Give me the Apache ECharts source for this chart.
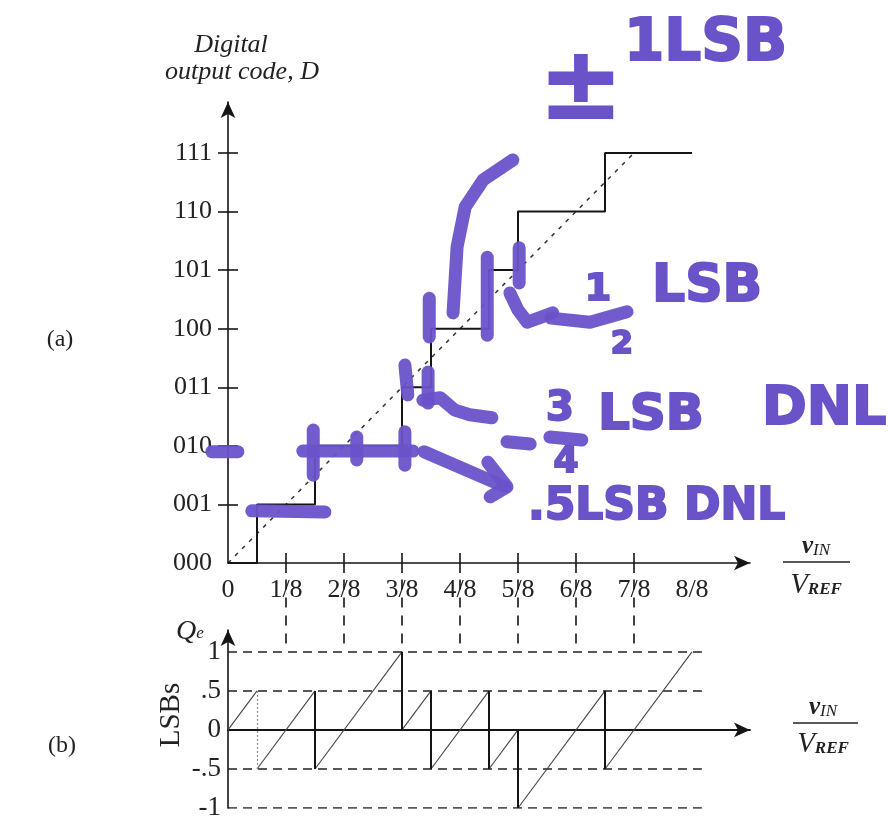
<!DOCTYPE html>
<html><head><meta charset="utf-8">
<script src="https://cdn.jsdelivr.net/npm/echarts@6/dist/echarts.min.js"></script>
<style>html,body{margin:0;padding:0;background:#fff}#c{width:888px;height:821px}</style>
</head><body><div id="c"></div>
<script>
// ---------- data (x in eighths of VREF) ----------
const xTickValues = [1, 2, 3, 4, 5, 6, 7];
const xLabelValues = [0, 1, 2, 3, 4, 5, 6, 7, 8];
const xLabels = ['0', '1/8', '2/8', '3/8', '4/8', '5/8', '6/8', '7/8', '8/8'];
const codeTickValues = [1, 2, 3, 4, 5, 6, 7];
const codeValues = [0, 1, 2, 3, 4, 5, 6, 7];
const codeLabels = ['000', '001', '010', '011', '100', '101', '110', '111'];
// input levels where the output code steps up by one
const transitions = [0.5, 1.5, 3, 3.5, 4.5, 5, 6.5];
const staircaseEnd = 8;
const idealStart = [0, 0];
const idealEnd = [7, 7];
// quantization error (LSBs): ramp segments
const qeRampStartX = [0, 0.5, 1.5, 3, 3.5, 4.5, 5, 6.5];
const qeRampStartY = [0, -0.5, -0.5, 0, -0.5, -0.5, -1, -0.5];
const qeRampEndX = [0.5, 1.5, 3, 3.5, 4.5, 5, 6.5, 8];
const qeRampEndY = [0.5, 0.5, 1, 0.5, 0.5, 0, 0.5, 1];
const qeLabelValues = [-1, -0.5, 0, 0.5, 1];
const qeLabels = ['-1', '-.5', '0', '.5', '1'];
const qeGuideLevels = [1, 0.5, -0.5, -1];
const qeGuideEnd = 8.17;
const connectorTop = -0.28, connectorBottom = -1.45;
// hand-drawn marker strokes (data coords of plot a)
const markerStrokes = [
  [[0.41, 0.89], [1.67, 0.87]],
  [[1.29, 1.91], [3.19, 1.91]],
  [[-0.28, 1.90], [0.17, 1.90]],
  [[1.47, 2.27], [1.47, 1.50]],
  [[2.22, 2.15], [2.22, 1.76]],
  [[3.05, 2.24], [3.05, 1.67]],
  [[3.05, 3.38], [3.10, 2.87]],
  [[3.45, 3.26], [3.45, 2.73]],
  [[3.36, 2.78], [3.66, 2.82], [3.91, 2.61], [4.17, 2.53], [4.55, 2.48]],
  [[3.47, 4.52], [3.47, 3.86]],
  [[4.47, 5.22], [4.47, 3.89]],
  [[5.02, 5.38], [5.02, 4.78]],
  [[4.91, 6.88], [4.40, 6.54], [4.09, 6.08], [3.95, 5.40], [3.88, 4.27]],
  [[4.86, 4.61], [5.00, 4.32], [5.16, 4.11], [5.60, 4.27]],
  [[3.38, 1.90], [4.78, 1.30]],
  [[4.48, 1.72], [4.81, 1.30], [4.52, 1.13]],
  [[5.57, 4.18], [6.24, 4.11], [6.88, 4.29]],
  [[5.55, 2.15], [6.10, 2.10]],
  [[4.81, 2.07], [5.21, 2.03]]
];

// ---------- build ----------
const staircase = [[0, 0]];
transitions.forEach((t, i) => { staircase.push([t, i]); staircase.push([t, i + 1]); });
staircase.push([staircaseEnd, transitions.length]);

const ramps = qeRampStartX.map((x, i) => ({ coords: [[x, qeRampStartY[i]], [qeRampEndX[i], qeRampEndY[i]]] }));
const drops = qeRampEndX.slice(0, -1).map((x, i) => {
  const item = { coords: [[x, qeRampEndY[i]], [x, qeRampStartY[i + 1]]] };
  if (i === 0) item.lineStyle = { color: '#888', width: 1.2, type: [2, 2] };
  return item;
});
const guides = qeGuideLevels.map(v => ({ coords: [[0, v], [qeGuideEnd, v]] }));
const connectors = xTickValues.map(x => ({ coords: [[x, connectorTop], [x, connectorBottom]] }));

const SERIF = '"Liberation Serif", "DejaVu Serif", serif';
const INK = '#151515';
const PURPLE = '#6a52c9';
const HAND = '"DejaVu Sans", sans-serif';

const G0 = { left: 228, top: 102, width: 522, height: 461 };
const G1 = { left: 228, top: 630, width: 522, height: 178 };
const X_MAX = 9, Y0_MAX = 7.87, Y1_MIN = -1, Y1_MAX = 1.28;

const chart = echarts.init(document.getElementById('c'), null, { renderer: 'canvas' });

function handText(text, x, y, size, align) {
  return { type: 'text', x: x, y: y, z: 50, style: { text: text, fontFamily: HAND, fontWeight: 'bold', fontSize: size,
    fill: PURPLE, stroke: PURPLE, lineWidth: 2, align: align || 'left', verticalAlign: 'middle' } };
}
function plainText(text, x, y, size, italic, align) {
  return { type: 'text', x: x, y: y, style: { text: text, fontFamily: SERIF, fontStyle: italic ? 'italic' : 'normal',
    fontSize: size, fill: '#222', align: align || 'center', verticalAlign: 'middle' } };
}
function fraction(cx, yTop, yBar, yBot, x1, x2) {
  return [
    { type: 'text', x: cx, y: yTop, style: { text: '{v|v}{s|IN}', align: 'center', verticalAlign: 'middle', fill: '#222',
      rich: { v: { fontFamily: SERIF, fontStyle: 'italic', fontWeight: 'bold', fontSize: 25, fill: '#222' },
              s: { fontFamily: SERIF, fontStyle: 'italic', fontSize: 17, fill: '#222', padding: [8, 0, 0, 0] } } } },
    { type: 'line', shape: { x1: x1, y1: yBar, x2: x2, y2: yBar }, style: { stroke: '#222', lineWidth: 1.6 } },
    { type: 'text', x: cx, y: yBot, style: { text: '{v|V}{s|REF}', align: 'center', verticalAlign: 'middle', fill: '#222',
      rich: { v: { fontFamily: SERIF, fontStyle: 'italic', fontSize: 29, fill: '#222' },
              s: { fontFamily: SERIF, fontStyle: 'italic', fontWeight: 'bold', fontSize: 17, fill: '#222', padding: [10, 0, 0, 0] } } } }
  ];
}

const hiddenAxisBits = { axisLine: { show: false }, splitLine: { show: false } };

chart.setOption({
  animation: false,
  backgroundColor: '#fff',
  grid: [
    Object.assign({ outerBoundsMode: 'none' }, G0),
    Object.assign({ outerBoundsMode: 'none' }, G1),
    Object.assign({ outerBoundsMode: 'none' }, G0)
  ],
  xAxis: [
    { gridIndex: 0, type: 'value', min: 0, max: X_MAX,
      axisLine: { show: true, onZero: false, symbol: ['none', 'arrow'], symbolSize: [11, 16], lineStyle: { color: INK, width: 1.6 } },
      axisTick: { show: true, customValues: xTickValues, length: 10, lineStyle: { color: INK, width: 1.6 } },
      axisLabel: { show: true, customValues: xLabelValues, margin: 14, fontFamily: SERIF, fontSize: 26, color: '#222',
        formatter: v => xLabels[xLabelValues.indexOf(v)] },
      splitLine: { show: false } },
    { gridIndex: 1, type: 'value', min: 0, max: X_MAX,
      axisLine: { show: true, onZero: true, symbol: ['none', 'arrow'], symbolSize: [11, 16], lineStyle: { color: INK, width: 1.8 } },
      axisTick: { show: false }, axisLabel: { show: false }, splitLine: { show: false } },
    Object.assign({ gridIndex: 2, type: 'value', min: 0, max: X_MAX,
      axisTick: { show: true, inside: true, customValues: xTickValues, length: 10, lineStyle: { color: INK, width: 1.6 } },
      axisLabel: { show: false } }, hiddenAxisBits)
  ],
  yAxis: [
    { gridIndex: 0, type: 'value', min: 0, max: Y0_MAX,
      axisLine: { show: true, onZero: false, symbol: ['none', 'arrow'], symbolSize: [11, 16], lineStyle: { color: INK, width: 1.6 } },
      axisTick: { show: true, customValues: codeTickValues, length: 10, lineStyle: { color: INK, width: 1.6 } },
      axisLabel: { show: true, customValues: codeValues, margin: 16, fontFamily: SERIF, fontSize: 26, color: '#222',
        formatter: v => codeLabels[codeValues.indexOf(v)] },
      splitLine: { show: false } },
    { gridIndex: 1, type: 'value', min: Y1_MIN, max: Y1_MAX,
      axisLine: { show: true, onZero: false, symbol: ['none', 'arrow'], symbolSize: [11, 16], lineStyle: { color: INK, width: 1.6 } },
      axisTick: { show: false },
      axisLabel: { show: true, customValues: qeLabelValues, margin: 7, fontFamily: SERIF, fontSize: 27, color: '#222',
        formatter: v => qeLabels[qeLabelValues.indexOf(v)] },
      splitLine: { show: false } },
    Object.assign({ gridIndex: 2, type: 'value', min: 0, max: Y0_MAX,
      axisTick: { show: true, inside: true, customValues: codeTickValues, length: 10, lineStyle: { color: INK, width: 1.6 } },
      axisLabel: { show: false } }, hiddenAxisBits)
  ],
  series: [
    { type: 'line', name: 'ideal', xAxisIndex: 0, yAxisIndex: 0, data: [idealStart, idealEnd], symbol: 'none',
      lineStyle: { color: '#333', width: 1.5, type: [4, 6] }, z: 3 },
    { type: 'line', name: 'D', xAxisIndex: 0, yAxisIndex: 0, data: staircase, symbol: 'none',
      lineStyle: { color: INK, width: 2 }, z: 4 },
    { type: 'lines', name: 'connectors', coordinateSystem: 'cartesian2d', xAxisIndex: 0, yAxisIndex: 0, clip: false,
      data: connectors, lineStyle: { color: INK, width: 1.6, type: [10, 8], opacity: 1 }, z: 2 },
    { type: 'lines', name: 'guides', coordinateSystem: 'cartesian2d', xAxisIndex: 1, yAxisIndex: 1,
      data: guides, lineStyle: { color: '#222', width: 1.5, type: [9, 6], opacity: 1 }, z: 2 },
    { type: 'lines', name: 'ramps', coordinateSystem: 'cartesian2d', xAxisIndex: 1, yAxisIndex: 1,
      data: ramps, lineStyle: { color: '#444', width: 1.1, opacity: 1 }, z: 3 },
    { type: 'lines', name: 'drops', coordinateSystem: 'cartesian2d', xAxisIndex: 1, yAxisIndex: 1,
      data: drops, lineStyle: { color: INK, width: 2, opacity: 1 }, z: 3 },
    { type: 'lines', name: 'marker', coordinateSystem: 'cartesian2d', xAxisIndex: 0, yAxisIndex: 0, polyline: true, clip: false,
      data: markerStrokes.map(c => ({ coords: c })), lineStyle: { color: PURPLE, width: 13, opacity: 0.95, cap: 'round', join: 'round' }, z: 10 }
  ],
  graphic: [
    plainText('Digital', 231, 45, 26, true),
    plainText('output code, D', 242, 72, 26, true),
    plainText('(a)', 60, 340, 24, false),
    plainText('(b)', 62, 746, 24, false),
    { type: 'text', x: 190, y: 632, style: { text: '{q|Q}{e|e}', align: 'center', verticalAlign: 'middle', fill: '#222',
      rich: { q: { fontFamily: SERIF, fontStyle: 'italic', fontSize: 28, fill: '#222' },
              e: { fontFamily: SERIF, fontStyle: 'italic', fontSize: 17, fill: '#222', padding: [4, 0, 0, 0] } } } },
    { type: 'text', x: 171, y: 715, rotation: Math.PI / 2, style: { text: 'LSBs', fontFamily: SERIF, fontSize: 29, fill: '#222',
      align: 'center', verticalAlign: 'middle' } },
    ...fraction(816, 547, 562, 585, 783, 850),
    ...fraction(823, 708, 723, 744, 793, 858),
    handText('±', 581, 92, 100, 'center'),
    handText('1LSB', 624, 45, 58),
    handText('1', 598, 290, 38, 'center'),
    handText('2', 622, 345, 32, 'center'),
    handText('LSB', 652, 287, 52),
    handText('3', 560, 410, 40, 'center'),
    handText('4', 566, 463, 36, 'center'),
    handText('LSB', 598, 416, 50),
    handText('DNL', 762, 410, 54),
    handText('.5LSB DNL', 528, 508, 44)
  ]
});
</script></body></html>
